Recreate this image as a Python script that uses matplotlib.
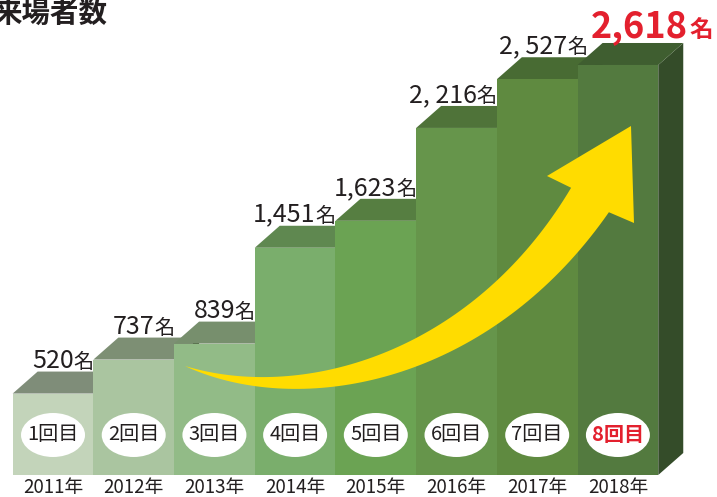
import numpy as np
import matplotlib
matplotlib.use("Agg")
import matplotlib.pyplot as plt
from matplotlib.patches import Polygon, Ellipse

plt.rcParams['font.family'] = ['Noto Sans CJK JP', 'DejaVu Sans']

# データ
years = ['2011年', '2012年', '2013年', '2014年', '2015年', '2016年', '2017年', '2018年']
rounds = ['1回目', '2回目', '3回目', '4回目', '5回目', '6回目', '7回目', '8回目']
visitors = [520, 737, 839, 1451, 1623, 2216, 2527, 2618]
value_labels = ['520', '737', '839', '1,451', '1,623', '2, 216', '2, 527', '2,618']

front_colors = ['#c3d4ba', '#aac5a0', '#92bb87', '#7aae6c', '#6ba353', '#66954b', '#5f8a40', '#537a3f']
top_colors = ['#7f8d79', '#7d8f74', '#778f6d', '#5f8850', '#567e41', '#4f7339', '#486b33', '#3f5e30']
side_color = '#344c29'
red = '#e3202e'
txt = '#231f20'

W, H = 717, 497
fig = plt.figure(figsize=(W / 100, H / 100), dpi=100)
ax = fig.add_axes([0, 0, 1, 1])
ax.set_xlim(-0.657, 8.228)
ax.set_ylim(-140.5, 3033)
ax.axis('off')

x0, x1 = ax.get_xlim()
y0, y1 = ax.get_ylim()


def px(x, y):
    # pixel (top-left origin) -> data
    return x0 + x / W * (x1 - x0), y1 - y / H * (y1 - y0)


dx, dy = 25 / W * (x1 - x0), 22 / H * (y1 - y0)
x = np.arange(len(visitors))

bars = ax.bar(x, visitors, width=1.0, color=front_colors, linewidth=0)
for i, (b, v) in enumerate(zip(bars, visitors)):
    b.set_zorder(3 + 3 * i)
    l, r = i - 0.5, i + 0.5
    top = Polygon([(l, v), (r, v), (r + dx, v + dy), (l + dx, v + dy)],
                  closed=True, fc=top_colors[i], ec='none', zorder=2 + 3 * i)
    side = Polygon([(r, 0), (r + dx, dy), (r + dx, v + dy), (r, v)],
                   closed=True, fc=side_color, ec='none', zorder=1 + 3 * i)
    ax.add_patch(top)
    ax.add_patch(side)

# 楕円とラベル
ow, oh = 64 / W * (x1 - x0), 44 / H * (y1 - y0)
oy = px(0, 435)[1]
for i, lab in enumerate(rounds):
    ax.add_patch(Ellipse((i, oy), ow, oh, fc='white', ec='none', zorder=40))
    last = i == len(rounds) - 1
    ax.text(i, oy, lab, ha='center', va='center', fontsize=14.5,
            color=red if last else txt, fontweight='bold' if last else 'normal', zorder=41)
    ax.text(i, px(0, 493)[1], years[i], ha='center', va='baseline',
            fontsize=13.5, color=txt, zorder=41)

# 数値ラベル
gap = 4 / H * (y1 - y0)
nudge = [0, 0, 0, 0, 0, 0, 0.12, 0]
for i in range(len(visitors) - 1):
    yb = visitors[i] + dy + gap
    ax.text(i + 0.5 + nudge[i], yb, '名', ha='right', va='baseline',
            fontsize=14.5, color=txt, zorder=60)
    ax.annotate(value_labels[i], (i + 0.5 + nudge[i], yb), xytext=(-14.2, 0),
                textcoords='offset points', ha='right', va='baseline',
                fontsize=18, color=txt, zorder=60)

xl, yl = px(688, 37)
ax.text(xl, yl, value_labels[-1], ha='right', va='baseline', fontsize=26,
        fontweight='bold', color=red, zorder=60)
ax.text(px(689, 37)[0], yl, '名', ha='left', va='baseline', fontsize=17,
        fontweight='bold', color=red, zorder=60)

# タイトル
tx, ty = px(-7, 22)
ax.text(tx, ty, '来場者数', ha='left', va='baseline', fontsize=20.5,
        fontweight='bold', color=txt, zorder=60)

# 黄色い矢印
P = np.array([[185, 366], [300, 410], [480, 370], [590, 200]], float)
t = np.linspace(0, 1, 80)[:, None]
c = ((1 - t) ** 3) * P[0] + 3 * ((1 - t) ** 2) * t * P[1] + 3 * (1 - t) * t ** 2 * P[2] + t ** 3 * P[3]
d = 3 * ((1 - t) ** 2) * (P[1] - P[0]) + 6 * (1 - t) * t * (P[2] - P[1]) + 3 * t ** 2 * (P[3] - P[2])
d = d / np.linalg.norm(d, axis=1, keepdims=True)
n = np.column_stack([d[:, 1], -d[:, 0]])
w = 45 * t[:, 0] ** 0.95
upper = c + n * (w[:, None] / 2)
lower = c - n * (w[:, None] / 2)
head = np.array([[547, 176], [631, 126], [634, 223]], float)
pts = np.vstack([upper, head, lower[::-1]])
pts = np.array([px(a, b) for a, b in pts])
ax.add_patch(Polygon(pts, closed=True, fc='#ffdc00', ec='none', zorder=50))

fig.savefig('out.png', dpi=100, facecolor='white')
